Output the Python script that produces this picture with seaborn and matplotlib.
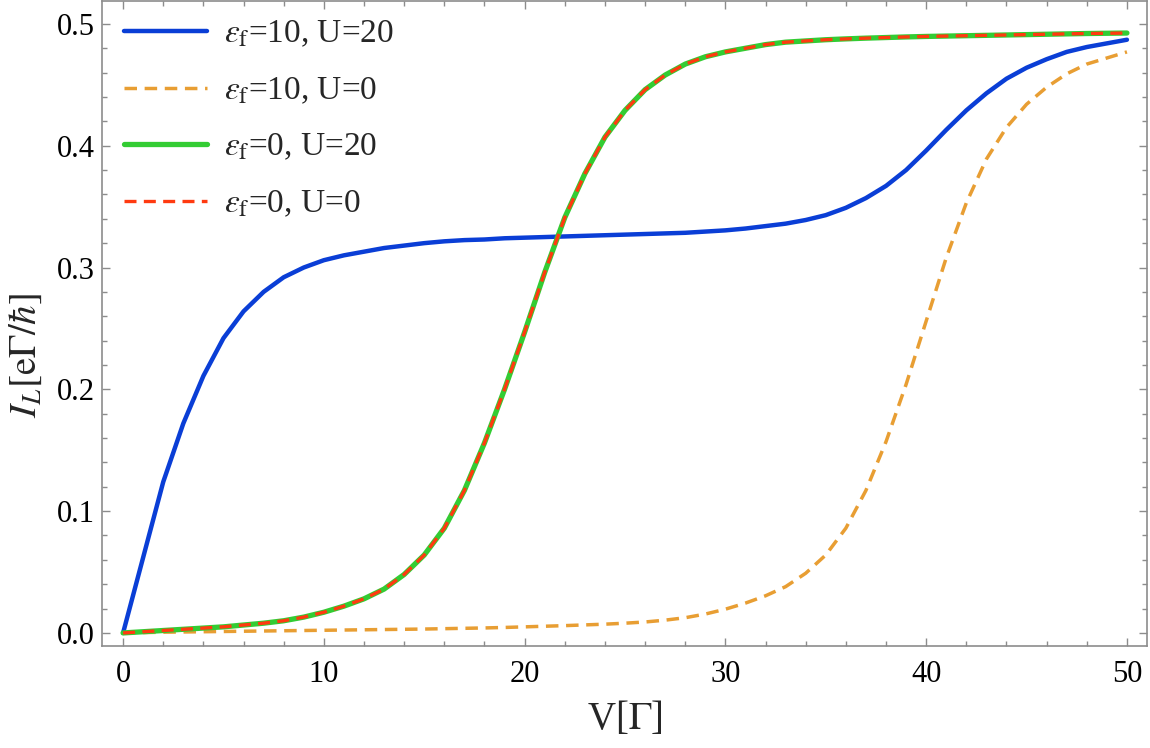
import matplotlib
matplotlib.use("Agg")
import matplotlib.pyplot as plt
from matplotlib.ticker import MultipleLocator, FormatStrFormatter
import seaborn as sns

# Bias voltage V in units of Gamma
V = list(range(0, 51))

# eps_f=10, U=20
I_e10_U20 = [0.000, 0.062, 0.124, 0.172, 0.211, 0.242, 0.264, 0.280, 0.292, 0.300,
             0.306, 0.310, 0.313, 0.316, 0.318, 0.320, 0.3215, 0.3225, 0.323, 0.324,
             0.3245, 0.325, 0.3255, 0.326, 0.3265, 0.327, 0.3275, 0.328, 0.3285, 0.3295,
             0.3305, 0.332, 0.334, 0.336, 0.339, 0.343, 0.349, 0.357, 0.367, 0.380,
             0.396, 0.413, 0.429, 0.443, 0.455, 0.464, 0.471, 0.477, 0.481, 0.484, 0.487]

# eps_f=10, U=0
I_e10_U0 = [0.000, 0.0003, 0.0006, 0.0008, 0.0010, 0.0012, 0.0014, 0.0016, 0.0018, 0.0020,
            0.0022, 0.0024, 0.0026, 0.0028, 0.0030, 0.0032, 0.0035, 0.0038, 0.0041, 0.0045,
            0.0050, 0.0055, 0.0060, 0.0066, 0.0072, 0.0080, 0.0090, 0.0105, 0.0125, 0.0155,
            0.0195, 0.0245, 0.0305, 0.038, 0.049, 0.064, 0.086, 0.117, 0.157, 0.204,
            0.256, 0.308, 0.353, 0.389, 0.415, 0.434, 0.448, 0.459, 0.467, 0.472, 0.477]

# eps_f=0, U=20 (identical to U=0)
I_e0_U20 = [0.000, 0.001, 0.002, 0.003, 0.004, 0.005, 0.0065, 0.008, 0.010, 0.013,
            0.017, 0.022, 0.028, 0.036, 0.048, 0.064, 0.086, 0.117, 0.156, 0.200,
            0.247, 0.296, 0.341, 0.377, 0.407, 0.429, 0.446, 0.458, 0.467, 0.473,
            0.477, 0.480, 0.483, 0.485, 0.486, 0.487, 0.4877, 0.4883, 0.4888, 0.4893,
            0.4897, 0.4900, 0.4903, 0.4906, 0.4909, 0.4912, 0.4915, 0.4918, 0.4921, 0.4923, 0.4925]
I_e0_U0 = list(I_e0_U20)

labels = [r"$\varepsilon_{\mathrm{f}}$=10, U=20", r"$\varepsilon_{\mathrm{f}}$=10, U=0",
          r"$\varepsilon_{\mathrm{f}}$=0, U=20", r"$\varepsilon_{\mathrm{f}}$=0, U=0"]

sns.set_theme(style="ticks")
plt.rcParams.update({
    "font.family": ["Liberation Serif", "DejaVu Serif"],
    "mathtext.fontset": "stix",
})
serif = ["Liberation Serif", "DejaVu Serif"]

frame_color = "#8c8c8c"

fig = plt.figure(figsize=(11.5, 7.48), dpi=100)
ax = fig.add_axes([0.0887, 0.1364, 0.9087, 0.8626])

sns.lineplot(x=V, y=I_e10_U20, ax=ax, color="#0a3ed6", lw=3.2, label=labels[0])
sns.lineplot(x=V, y=I_e10_U0, ax=ax, color="#e89e33", lw=2.5, label=labels[1])
ax.lines[-1].set_dashes([3.6, 2.2])
sns.lineplot(x=V, y=I_e0_U20, ax=ax, color="#33cc33", lw=3.8, label=labels[2])
sns.lineplot(x=V, y=I_e0_U0, ax=ax, color="#ff3a10", lw=2.4, label=labels[3])
ax.lines[-1].set_dashes([3.6, 2.2])

ax.set_xlim(-1.05, 51.0)
ax.set_ylim(-0.0107, 0.519)

ax.xaxis.set_major_locator(MultipleLocator(10))
ax.xaxis.set_minor_locator(MultipleLocator(2))
ax.yaxis.set_major_locator(MultipleLocator(0.1))
ax.yaxis.set_minor_locator(MultipleLocator(0.02))
ax.xaxis.set_major_formatter(FormatStrFormatter("%d"))
ax.yaxis.set_major_formatter(FormatStrFormatter("%.1f"))

for side in ["top", "right", "left", "bottom"]:
    ax.spines[side].set_visible(True)
    ax.spines[side].set_color(frame_color)
    ax.spines[side].set_linewidth(1.2)

ax.tick_params(which="both", direction="in", top=True, right=True,
               color=frame_color, width=1.0, labelsize=22, labelcolor="black")
ax.tick_params(which="major", length=6)
ax.tick_params(which="minor", length=3.5)
ax.tick_params(axis="x", pad=10)
ax.tick_params(axis="y", pad=5)
for lbl in ax.get_xticklabels() + ax.get_yticklabels():
    lbl.set_fontfamily(serif)

ax.set_xlabel(r"V[$\Gamma$]", fontsize=28, labelpad=8, family=serif)
ax.set_ylabel(r"$I_L[\mathrm{e}\Gamma/\hbar]$", fontsize=28, family=serif)
ax.yaxis.set_label_coords(-0.055, 0.45)

leg = ax.legend(loc="upper left", frameon=False, prop={"family": serif, "size": 24},
                handlelength=2.5, handletextpad=0.5, labelspacing=0.78,
                borderaxespad=0.0, bbox_to_anchor=(0.008, 0.992))

fig.savefig("out.png", dpi=100)
